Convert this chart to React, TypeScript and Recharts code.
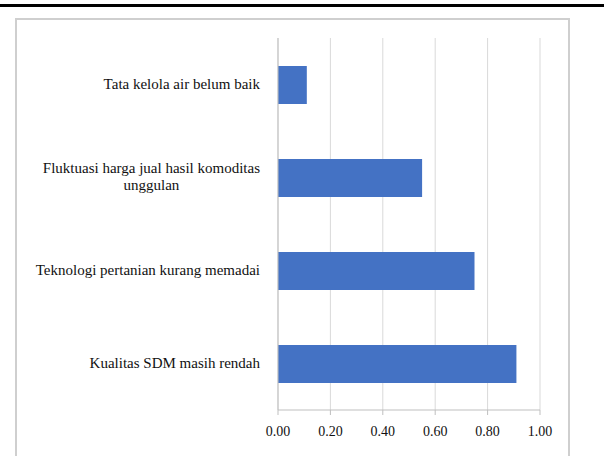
import React from 'react';
import { BarChart, Bar, XAxis, YAxis, CartesianGrid } from 'recharts';

// Categories top-to-bottom as shown in the chart
const categories = [
  'Tata kelola air belum baik',
  'Fluktuasi harga jual hasil komoditas\nunggulan',
  'Teknologi pertanian kurang memadai',
  'Kualitas SDM masih rendah',
];
const values = [0.11, 0.55, 0.75, 0.91];
const xTicks = [0, 0.2, 0.4, 0.6, 0.8, 1.0];

const data = categories.map((name, i) => ({ name, value: values[i] }));

const FONT = '"Liberation Serif", "Times New Roman", serif';

let ctx: CanvasRenderingContext2D | null = null;
const measure = (s: string, size: number) => {
  if (!ctx) ctx = document.createElement('canvas').getContext('2d');
  if (!ctx) return s.length * size * 0.45;
  ctx.font = `${size}px ${FONT}`;
  return ctx.measureText(s).width;
};

const CategoryTick = (props: any) => {
  const { x, y, payload } = props;
  const lines: string[] = String(payload.value).split('\n');
  const size = 15;
  const right = x - 10;
  if (lines.length === 1) {
    return (
      <text x={right} y={y} dy={4} textAnchor="end" fontSize={size} fontFamily={FONT} fill="#111">
        {lines[0]}
      </text>
    );
  }
  const w = Math.max(...lines.map((l) => measure(l, size)));
  const cx = right - w / 2;
  const lh = 17;
  const startY = y - ((lines.length - 1) * lh) / 2 + 4;
  return (
    <text x={cx} y={startY} textAnchor="middle" fontSize={size} fontFamily={FONT} fill="#111">
      {lines.map((l, i) => (
        <tspan key={i} x={cx} dy={i === 0 ? 0 : lh}>
          {l}
        </tspan>
      ))}
    </text>
  );
};

export default function App() {
  return (
    <div style={{ position: 'absolute', left: 0, top: 0, width: 604, height: 456, background: '#fff', overflow: 'hidden' }}>
      <div style={{ position: 'absolute', left: 0, top: 4, width: 604, height: 3, background: '#000' }} />
      <div
        style={{
          position: 'absolute',
          left: 15,
          top: 18,
          width: 551,
          height: 450,
          border: '2px solid #cfcfcf',
        }}
      >
        <BarChart
          width={551}
          height={438}
          data={data}
          layout="vertical"
          margin={{ top: 18, right: 28, left: 0, bottom: 14 }}
        >
          <CartesianGrid horizontal={false} stroke="#d9d9d9" />
          <XAxis
            type="number"
            domain={[0, 1]}
            ticks={xTicks}
            tickFormatter={(v: number) => v.toFixed(2)}
            axisLine={{ stroke: '#bfbfbf' }}
            tickLine={{ stroke: '#bfbfbf' }}
            tickSize={5}
            height={34}
            tick={{ fontSize: 14, fontFamily: FONT, fill: '#111', dy: 9 }}
          />
          <YAxis
            type="category"
            dataKey="name"
            width={261}
            axisLine={{ stroke: '#bfbfbf' }}
            tickLine={false}
            tick={<CategoryTick />}
            interval={0}
          />
          <Bar dataKey="value" fill="#4472c4" barSize={38} isAnimationActive={false} />
        </BarChart>
      </div>
    </div>
  );
}
